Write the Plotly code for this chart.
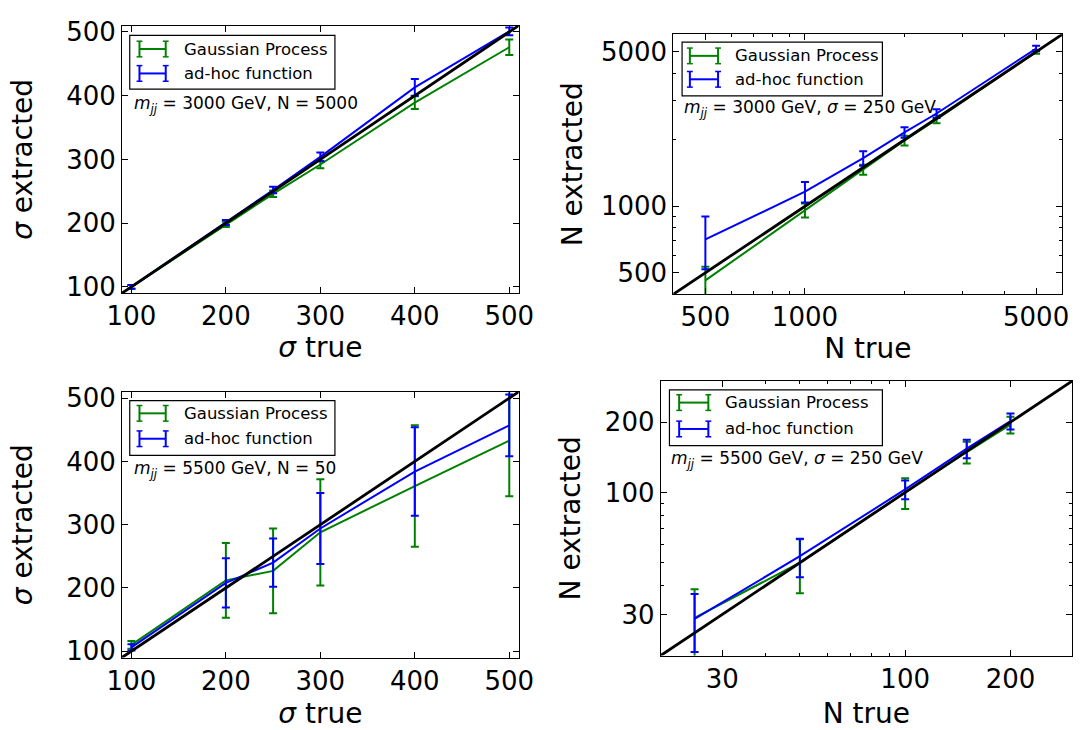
import math
import plotly.graph_objects as go

W, H = 1088, 730
FONT = "DejaVu Sans"
GREEN = "#008000"
BLUE = "#0000ff"

# ---------------- data ----------------
# Panel 1: sigma scan, m_jj = 3000 GeV, N = 5000
sig_true_1 = [100, 200, 250, 300, 400, 500]
gp_sig_1 = [100, 198, 246, 292, 389, 476]
gp_sig_err_1 = [3, 4, 5, 6, 10, 12]
ah_sig_1 = [100, 201, 252, 304, 413, 501]
ah_sig_err_1 = [3, 4, 5, 7, 13, 6]

# Panel 2: N scan, m_jj = 3000 GeV, sigma = 250 GeV
N_true_2 = [500, 1000, 1500, 2000, 2500, 5000]
gp_N_2 = [462, 960, 1465, 1986, 2475, 5000]
gp_N_err_2 = [70, 70, 75, 100, 100, 100]
ah_N_2 = [708, 1164, 1650, 2161, 2630, 5176]
ah_N_err_2 = [190, 125, 125, 120, 120, 150]

# Panel 3: sigma scan, m_jj = 5500 GeV, N = 50
sig_true_3 = [100, 200, 250, 300, 400, 500]
gp_sig_3 = [110, 212, 227, 288, 361, 433]
gp_sig_err_3 = [6, 59, 67, 84, 96, 88]
ah_sig_3 = [106, 208, 240, 294, 384, 457]
ah_sig_err_3 = [5, 39, 38, 56, 70, 49]

# Panel 4: N scan, m_jj = 5500 GeV, sigma = 250 GeV
N_true_4 = [25, 50, 100, 150, 200]
gp_N_4 = [29, 50, 100, 149, 195]
gp_N_err_4 = [9.5, 13, 15, 16, 16]
ah_N_4 = [28.7, 53.3, 103, 154, 202]
ah_N_err_4 = [8, 10, 9.5, 14, 16]

# axis ranges (also the extent of the y = x reference line)
sig_range = [90, 510]
N_range_2 = [400, 6000]
N_range_4 = [20, 300]

sig_ticks = [100, 200, 300, 400, 500]
N_ticks_2 = [500, 1000, 5000]
N_minor_2 = [600, 700, 800, 900, 2000, 3000, 4000]
N_ticks_4 = [30, 100, 200]
N_minor_4 = [40, 50, 60, 70, 80, 90, 300]

series_names = ["Gaussian Process", "ad-hoc function"]
labels = [
    "<i>m</i><sub><i>jj</i></sub> = 3000 GeV, N = 5000",
    "<i>m</i><sub><i>jj</i></sub> = 3000 GeV, <i>σ</i> = 250 GeV",
    "<i>m</i><sub><i>jj</i></sub> = 5500 GeV, N = 50",
    "<i>m</i><sub><i>jj</i></sub> = 5500 GeV, <i>σ</i> = 250 GeV",
]

# ---------------- figure ----------------
fig = go.Figure()


def add_panel(idx, xt, gp, gpe, ah, ahe, rng):
    sfx = "" if idx == 1 else str(idx)
    xa, ya = "x" + sfx, "y" + sfx
    for y, e, c, name in [(gp, gpe, GREEN, series_names[0]), (ah, ahe, BLUE, series_names[1])]:
        fig.add_trace(go.Scatter(
            x=xt, y=y, mode="lines", name=name, showlegend=False,
            line=dict(color=c, width=2),
            error_y=dict(type="data", array=e, visible=True, color=c, thickness=2, width=4),
            xaxis=xa, yaxis=ya))
    fig.add_trace(go.Scatter(x=rng, y=rng, mode="lines", showlegend=False,
                             line=dict(color="black", width=2.8), xaxis=xa, yaxis=ya))


add_panel(1, sig_true_1, gp_sig_1, gp_sig_err_1, ah_sig_1, ah_sig_err_1, sig_range)
add_panel(2, N_true_2, gp_N_2, gp_N_err_2, ah_N_2, ah_N_err_2, N_range_2)
add_panel(3, sig_true_3, gp_sig_3, gp_sig_err_3, ah_sig_3, ah_sig_err_3, sig_range)
add_panel(4, N_true_4, gp_N_4, gp_N_err_4, ah_N_4, ah_N_err_4, N_range_4)


def fx(px):
    return px / W


def fy(py):
    return 1 - py / H


def base_axis(title, standoff):
    return dict(
        showline=True, linecolor="black", linewidth=1, mirror="allticks",
        ticks="inside", ticklen=6, tickwidth=1, tickcolor="black",
        tickfont=dict(family=FONT, size=26, color="black"),
        showgrid=False, zeroline=False,
        title=dict(text=title, font=dict(family=FONT, size=28, color="black"), standoff=standoff),
    )


def lin_axis(title, standoff, dom, anchor):
    d = base_axis(title, standoff)
    d.update(range=sig_range, tickmode="array", tickvals=sig_ticks,
             ticktext=[str(v) for v in sig_ticks], domain=dom, anchor=anchor)
    return d


def log_axis(title, standoff, dom, anchor, rng, ticks, minor):
    d = base_axis(title, standoff)
    d.update(type="log", range=[math.log10(rng[0]), math.log10(rng[1])],
             tickmode="array", tickvals=ticks, ticktext=[str(v) for v in ticks],
             minor=dict(tickmode="array", tickvals=minor, ticks="inside", ticklen=3,
                        tickcolor="black", showgrid=False),
             domain=dom, anchor=anchor)
    return d


sig_x = "<i>σ</i> true"
sig_y = "<i>σ</i> extracted"

fig.update_layout(
    width=W, height=H,
    margin=dict(l=0, r=0, t=0, b=0),
    paper_bgcolor="white", plot_bgcolor="white",
    font=dict(family=FONT, color="black"),
    showlegend=False,
    xaxis=lin_axis(sig_x, 4, [fx(110), fx(518)], "y"),
    yaxis=lin_axis(sig_y, 25, [fy(292), fy(18)], "x"),
    xaxis2=log_axis("N true", 3, [fx(677), fx(1077)], "y2", N_range_2, N_ticks_2, N_minor_2),
    yaxis2=log_axis("N extracted", 10, [fy(293), fy(27)], "x2", N_range_2, N_ticks_2, N_minor_2),
    xaxis3=lin_axis(sig_x, 11, [fx(110), fx(518)], "y3"),
    yaxis3=lin_axis(sig_y, 25, [fy(665), fy(393)], "x3"),
    xaxis4=log_axis("N true", 11, [fx(664), fx(1087)], "y4", N_range_4, N_ticks_4, N_minor_4),
    yaxis4=log_axis("N extracted", 16, [fy(663), fy(382)], "x4", N_range_4, N_ticks_4, N_minor_4),
)

# ---------------- custom legends (errorbar-style handles) ----------------
legend_boxes = [
    dict(box=(118, 28, 329, 83), sym=(128, 155), rows=(42, 67), tx=172, ann=(120, 99)),
    dict(box=(686, 35, 892, 90), sym=(694, 723), rows=(49, 73), tx=738, ann=(686, 103)),
    dict(box=(118, 402, 329, 458), sym=(128, 155), rows=(415, 441), tx=172, ann=(120, 472)),
    dict(box=(673, 391, 892, 448), sym=(683, 713), rows=(404, 431), tx=728, ann=(673, 462)),
]

shapes = []
annotations = []
for i, lb in enumerate(legend_boxes):
    x0, y0, x1, y1 = lb["box"]
    shapes.append(dict(type="rect", xref="paper", yref="paper",
                       x0=fx(x0), x1=fx(x1), y0=fy(y1), y1=fy(y0),
                       line=dict(color="black", width=1.2), fillcolor="white", layer="above"))
    for ry, col, name in zip(lb["rows"], [GREEN, BLUE], series_names):
        sx0, sx1 = lb["sym"]
        shapes.append(dict(type="line", xref="paper", yref="paper",
                           x0=fx(sx0), x1=fx(sx1), y0=fy(ry), y1=fy(ry),
                           line=dict(color=col, width=2), layer="above"))
        for sx in (sx0, sx1):
            shapes.append(dict(type="line", xref="paper", yref="paper",
                               x0=fx(sx), x1=fx(sx), y0=fy(ry - 8), y1=fy(ry + 8),
                               line=dict(color=col, width=2), layer="above"))
            for cy in (ry - 8, ry + 8):
                shapes.append(dict(type="line", xref="paper", yref="paper",
                                   x0=fx(sx - 3), x1=fx(sx + 3), y0=fy(cy), y1=fy(cy),
                                   line=dict(color=col, width=1.5), layer="above"))
        annotations.append(dict(xref="paper", yref="paper", x=fx(lb["tx"]), y=fy(ry),
                                xanchor="left", yanchor="middle", showarrow=False,
                                text=name, font=dict(family=FONT, size=16.5, color="black")))
    ax, ay = lb["ann"]
    annotations.append(dict(xref="paper", yref="paper", x=fx(ax), y=fy(ay),
                            xanchor="left", yanchor="middle", showarrow=False,
                            text=labels[i], font=dict(family=FONT, size=17, color="black")))

fig.update_layout(shapes=shapes, annotations=annotations)

fig.write_html("out.html")
